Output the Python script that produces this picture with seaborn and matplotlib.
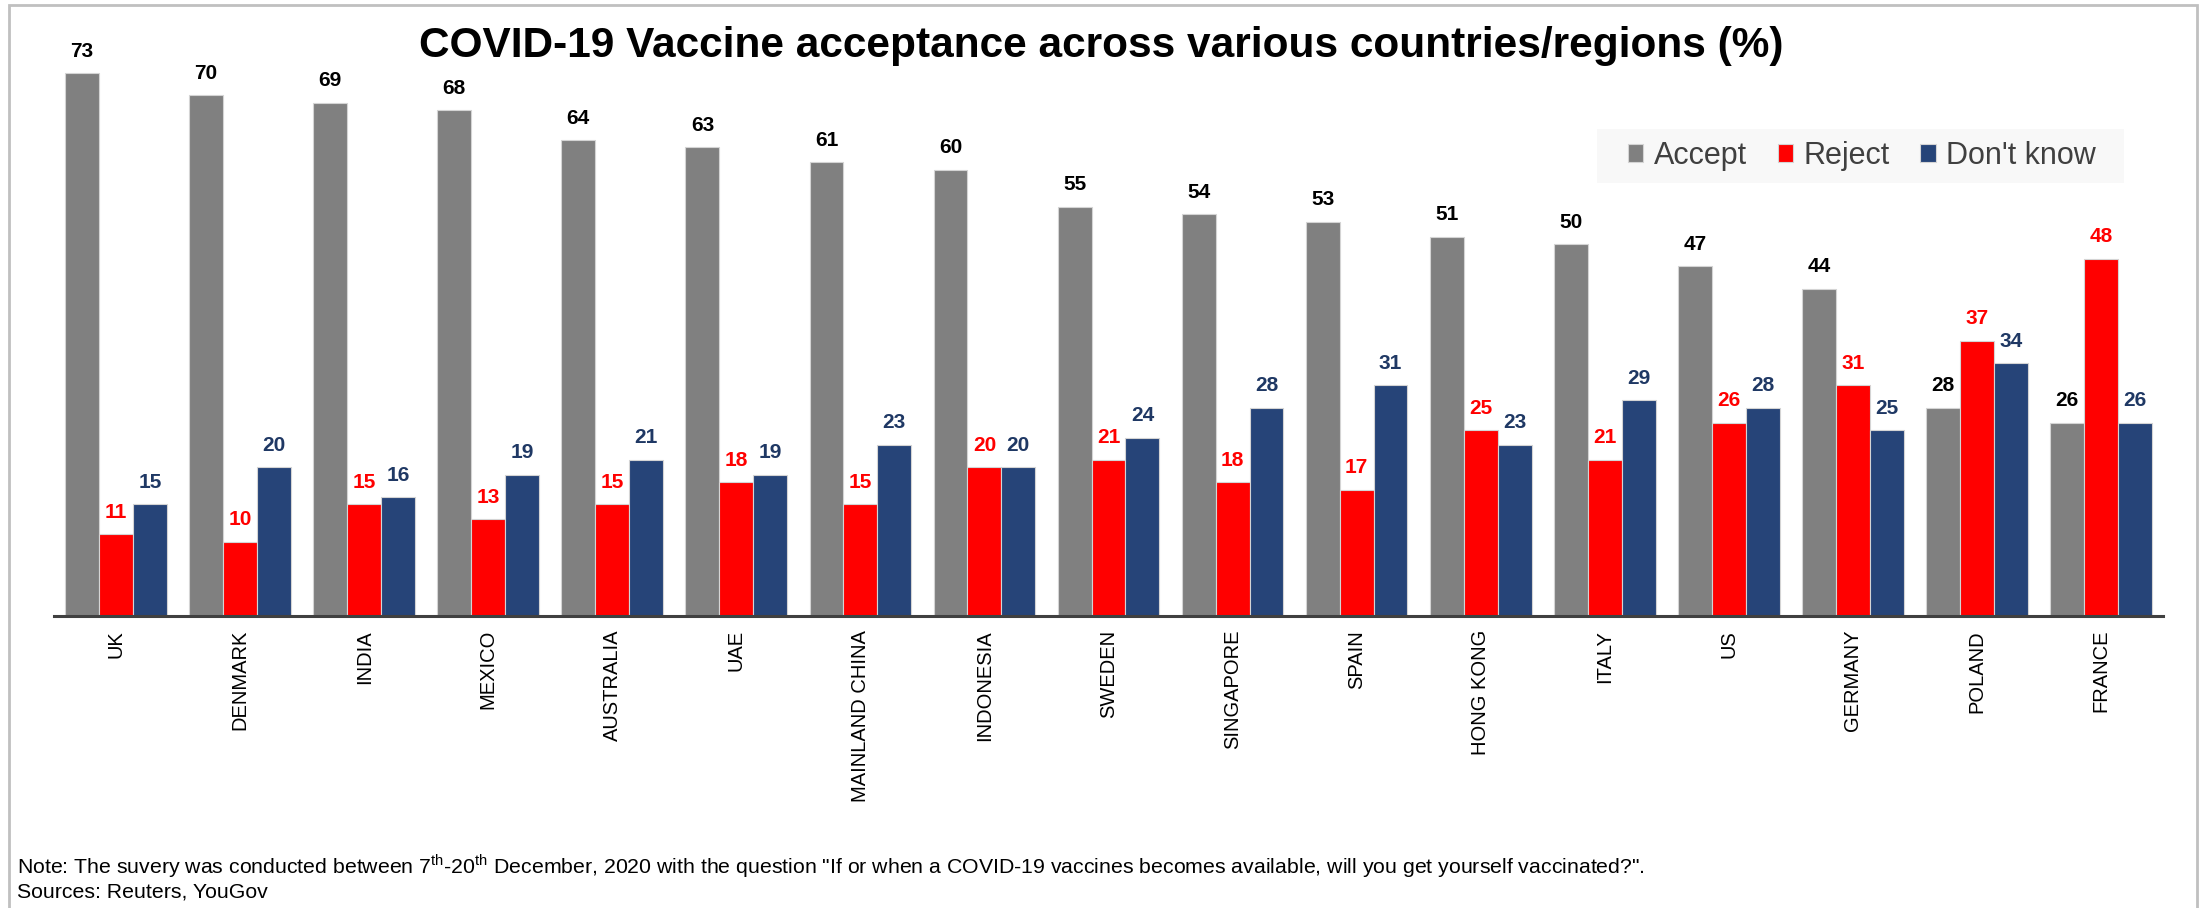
import numpy as np
import pandas as pd
import seaborn as sns
import matplotlib.pyplot as plt
from matplotlib.patches import Rectangle

# 데이터
countries = ['UK', 'DENMARK', 'INDIA', 'MEXICO', 'AUSTRALIA', 'UAE', 'MAINLAND CHINA', 'INDONESIA',
             'SWEDEN', 'SINGAPORE', 'SPAIN', 'HONG KONG', 'ITALY', 'US', 'GERMANY', 'POLAND', 'FRANCE']
accept = [73, 70, 69, 68, 64, 63, 61, 60, 55, 54, 53, 51, 50, 47, 44, 28, 26]
reject = [11, 10, 15, 13, 15, 18, 15, 20, 21, 18, 17, 25, 21, 26, 31, 37, 48]
dont_know = [15, 20, 16, 19, 21, 19, 23, 20, 24, 28, 31, 23, 29, 28, 25, 34, 26]
series = ['Accept', 'Reject', "Don't know"]

df = pd.DataFrame({'country': countries * 3,
                   'value': accept + reject + dont_know,
                   'series': [s for s in series for _ in countries]})

bar_colors = ['#808080', '#FF0000', '#264478']
label_colors = ['#000000', '#FF0000', '#1F3864']

sns.set_style('white')
plt.rcParams['font.family'] = ['Liberation Sans', 'DejaVu Sans']
plt.rcParams['mathtext.fontset'] = 'custom'
plt.rcParams['mathtext.rm'] = 'Liberation Sans'
plt.rcParams['text.color'] = 'black'
plt.rcParams['xtick.color'] = 'black'

W, H = 2203, 908
fig = plt.figure(figsize=(W / 100, H / 100), dpi=100)
ax = fig.add_axes([54 / W, 1 - 616 / H, (2163 - 54) / W, (616 - 21) / H])

sns.barplot(data=df, x='country', y='value', hue='series', palette=bar_colors, width=0.82,
            saturation=1, edgecolor='#d4d4d4', linewidth=0.8, ax=ax)

for cont, c in zip(ax.containers, label_colors):
    ax.bar_label(cont, padding=9, fontsize=15, fontweight='bold', color=c)

ax.set_ylim(0, 80)
ax.set_xlim(-0.5, len(countries) - 0.5)
ax.set_xlabel('')
ax.set_ylabel('')
ax.set_yticks([])
ax.tick_params(axis='x', length=0, pad=10, labelsize=14.5, labelrotation=90, labelcolor='black')
for s in ['top', 'right', 'left']:
    ax.spines[s].set_visible(False)
ax.spines['bottom'].set_color('#404040')
ax.spines['bottom'].set_linewidth(2.2)

# 범례 (figure 범례 + 배경)
handles, labels = ax.get_legend_handles_labels()
ax.get_legend().remove()
fig.patches.append(Rectangle((1597 / W, 1 - 183 / H), (2124 - 1597) / W, 54 / H, transform=fig.transFigure,
                             facecolor='#F8F8F8', edgecolor='none', zorder=1))
leg = fig.legend(handles, labels, loc='center left', bbox_to_anchor=(1628 / W, 1 - 156 / H),
                 ncol=3, fontsize=22, frameon=False, borderaxespad=0, borderpad=0,
                 handlelength=0.5, handleheight=0.5, handletextpad=0.35, columnspacing=1.0,
                 labelcolor='#404040')
leg.set_zorder(5)
for h in leg.legend_handles:
    h.set_edgecolor('#d4d4d4')

fig.text(0.5, 1 - 57 / H, 'COVID-19 Vaccine acceptance across various countries/regions (%)',
         ha='center', va='baseline', fontsize=30.5, fontweight='bold', color='black')

fig.text(17 / W, 1 - 873 / H,
         'Note: The suvery was conducted between 7$^{\\mathrm{th}}$-20$^{\\mathrm{th}}$ December, 2020 with the question '
         '"If or when a COVID-19 vaccines becomes available, will you get yourself vaccinated?".',
         ha='left', va='baseline', fontsize=15.3, color='black')
fig.text(17 / W, 1 - 898 / H, 'Sources: Reuters, YouGov', ha='left', va='baseline', fontsize=15.3,
         color='black')

# 테두리
fig.patches.append(Rectangle((9 / W, -0.05), (2197 - 9) / W, 1.05 - 5 / H, transform=fig.transFigure,
                             fill=False, edgecolor='#c0c0c0', linewidth=2))

fig.savefig('out.png', dpi=100)
